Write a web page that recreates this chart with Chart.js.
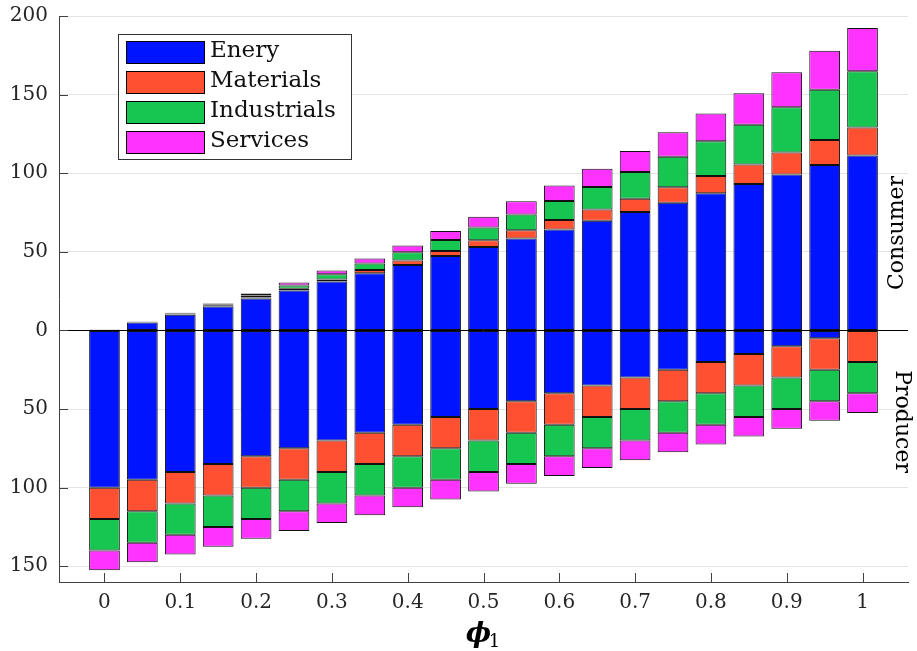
<!DOCTYPE html>
<html>
<head>
<meta charset="utf-8">
<script src="https://cdn.jsdelivr.net/npm/chart.js@4/dist/chart.umd.min.js"></script>
<style>
    body { margin: 0; background: #fff; }
    #wrap { width: 917px; height: 651px; }
</style>
</head>
<body>
<div id="wrap"><canvas id="sector_chart" width="917" height="651"></canvas></div>
<script>
const phi = [0, 0.05, 0.1, 0.15, 0.2, 0.25, 0.3, 0.35, 0.4, 0.45, 0.5, 0.55, 0.6, 0.65, 0.7, 0.75, 0.8, 0.85, 0.9, 0.95, 1];

// consumer side (drawn above zero)
const consumerEnergy = [0.3, 5, 10, 15.2, 20.3, 25.4, 31.2, 36.3, 41.7, 47.3, 53, 58.5, 64.2, 69.7, 75.4, 81.2, 87.3, 93.1, 99.2, 105.2, 111.3];
const consumerMaterials = [0.1, 0.2, 0.3, 0.5, 0.6, 1.1, 1.2, 2.1, 2.8, 3.3, 4.3, 5.3, 6.0, 7.3, 8.3, 9.8, 10.9, 12.5, 14.0, 15.9, 17.8];
const consumerIndustrials = [0.1, 0.3, 0.5, 0.8, 1.4, 2.1, 3.4, 4.2, 5.3, 7.0, 8.2, 10.0, 12.1, 14.3, 17.0, 19.4, 22.2, 25.2, 28.7, 32.0, 35.7];
const consumerServices = [0.1, 0.2, 0.4, 0.7, 1.2, 1.9, 2.4, 3.2, 4.3, 5.6, 6.8, 8.3, 9.9, 11.5, 13.4, 15.6, 17.6, 20.0, 22.4, 24.8, 27.5];

// producer side (drawn below zero)
const producerEnergy = [-100, -95, -90, -85, -80, -75, -70, -65, -60, -55, -50, -45, -40, -35, -30, -25, -20, -15, -10, -5, 0];
const producerMaterials = [-20, -20, -20, -20, -20, -20, -20, -20, -20, -20, -20, -20, -20, -20, -20, -20, -20, -20, -20, -20, -20];
const producerIndustrials = [-20, -20, -20, -20, -20, -20, -20, -20, -20, -20, -20, -20, -20, -20, -20, -20, -20, -20, -20, -20, -20];
const producerServices = [-12.5, -12.5, -12.5, -12.5, -12.5, -12.5, -12.5, -12.5, -12.5, -12.5, -12.5, -12.5, -12.5, -12.5, -12.5, -12.5, -12.5, -12.5, -12.5, -12.5, -12.5];

const sectorLabels = ["Enery", "Materials", "Industrials", "Services"];
const sectorColors = ["#0014ff", "#ff5032", "#17c650", "#ff33ff"];

const xTicks = [0, 0.1, 0.2, 0.3, 0.4, 0.5, 0.6, 0.7, 0.8, 0.9, 1];
const yTicks = [-150, -100, -50, 0, 50, 100, 150, 200];

const serif = '"DejaVu Serif", "Liberation Serif", serif';

function series(values) {
    return values.map(function (v, i) { return { x: phi[i], y: v }; });
}

let datasets = [];
[consumerEnergy, consumerMaterials, consumerIndustrials, consumerServices].forEach(function (values, i) {
    datasets.push({ label: sectorLabels[i], data: series(values), backgroundColor: sectorColors[i] });
});
[producerEnergy, producerMaterials, producerIndustrials, producerServices].forEach(function (values, i) {
    datasets.push({ label: sectorLabels[i] + " (producer)", data: series(values), backgroundColor: sectorColors[i] });
});
datasets.forEach(function (d) {
    d.borderColor = "#111";
    d.borderWidth = 1;
    d.borderSkipped = false;
    d.barPercentage = 0.81;
    d.categoryPercentage = 1;
});

const decor = {
    id: "decor",
    afterDatasetsDraw(chart) {
        const ctx = chart.ctx, a = chart.chartArea, x = chart.scales.x, y = chart.scales.y;
        ctx.save();

        // zero line over the bars
        const y0 = Math.round(y.getPixelForValue(0)) + 0.5;
        ctx.strokeStyle = "#000";
        ctx.lineWidth = 1;
        ctx.beginPath();
        ctx.moveTo(a.left, y0);
        ctx.lineTo(a.right, y0);
        ctx.stroke();

        // inward tick marks
        ctx.strokeStyle = "#404040";
        ctx.beginPath();
        yTicks.forEach(function (v) {
            const py = Math.round(y.getPixelForValue(v)) + 0.5;
            ctx.moveTo(a.left, py);
            ctx.lineTo(a.left + 9, py);
        });
        xTicks.forEach(function (v) {
            const px = Math.round(x.getPixelForValue(v)) + 0.5;
            ctx.moveTo(px, a.bottom);
            ctx.lineTo(px, a.bottom - 9);
        });
        ctx.stroke();

        // side labels
        ctx.fillStyle = "#000";
        ctx.font = "22px " + serif;
        ctx.textAlign = "center";
        ctx.textBaseline = "middle";
        ctx.save();
        ctx.translate(a.right - 11, y.getPixelForValue(62));
        ctx.rotate(-Math.PI / 2);
        ctx.fillText("Consumer", 0, 0);
        ctx.restore();
        ctx.save();
        ctx.translate(a.right - 6, y.getPixelForValue(-58));
        ctx.rotate(Math.PI / 2);
        ctx.fillText("Producer", 0, 0);
        ctx.restore();

        // legend box
        const lx = 118, ly = 34, lw = 233, lh = 125;
        ctx.fillStyle = "#fff";
        ctx.fillRect(lx, ly, lw, lh);
        ctx.strokeStyle = "#333";
        ctx.strokeRect(lx + 0.5, ly + 0.5, lw, lh);
        ctx.font = "23px " + serif;
        ctx.textAlign = "left";
        ctx.textBaseline = "middle";
        chart.data.datasets.slice(0, 4).forEach(function (d, i) {
            const top = ly + 7 + i * 30;
            ctx.fillStyle = d.backgroundColor;
            ctx.fillRect(lx + 8, top, 78, 22);
            ctx.strokeStyle = "#000";
            ctx.strokeRect(lx + 8.5, top + 0.5, 78, 22);
            ctx.fillStyle = "#111";
            ctx.fillText(d.label, lx + 92, top + 10);
        });

        // x axis title
        const cx = (a.left + a.right) / 2;
        ctx.fillStyle = "#000";
        ctx.textAlign = "center";
        ctx.textBaseline = "alphabetic";
        ctx.font = "italic bold 27px " + serif;
        ctx.fillText("\u03d5", cx - 5, 642);
        ctx.font = "18px " + serif;
        ctx.fillText("1", cx + 11, 647);

        ctx.restore();
    }
};

new Chart(document.getElementById("sector_chart").getContext("2d"), {
    type: "bar",
    data: { datasets: datasets },
    plugins: [decor],
    options: {
        responsive: false,
        animation: false,
        layout: { padding: { top: 16, right: 9, left: 0, bottom: 0 } },
        plugins: {
            legend: { display: false },
            tooltip: { enabled: false }
        },
        scales: {
            x: {
                type: "linear",
                min: -0.06,
                max: 1.06,
                stacked: true,
                offset: false,
                grid: { display: false, drawTicks: false, offset: false },
                border: { display: true, color: "#404040", width: 1 },
                afterBuildTicks: function (s) { s.ticks = xTicks.map(function (v) { return { value: v }; }); },
                afterFit: function (s) {
                    s.height = 69;
                    s.paddingLeft = 0;
                    s.paddingRight = 0;
                },
                ticks: {
                    padding: 9,
                    color: "#262626",
                    font: { family: serif, size: 20 },
                    maxRotation: 0,
                    callback: function (v) { return String(v); }
                }
            },
            y: {
                type: "linear",
                min: -160,
                max: 200,
                stacked: true,
                grid: { color: "#e4e4e4", drawTicks: false },
                border: { display: true, color: "#404040", width: 1 },
                afterBuildTicks: function (s) { s.ticks = yTicks.map(function (v) { return { value: v }; }); },
                afterFit: function (s) {
                    s.width = 59;
                    s.paddingTop = 0;
                    s.paddingBottom = 0;
                },
                ticks: {
                    padding: 11,
                    color: "#262626",
                    font: { family: serif, size: 20 },
                    callback: function (v) { return String(Math.abs(v)); }
                }
            }
        }
    }
});
</script>
</body>
</html>
